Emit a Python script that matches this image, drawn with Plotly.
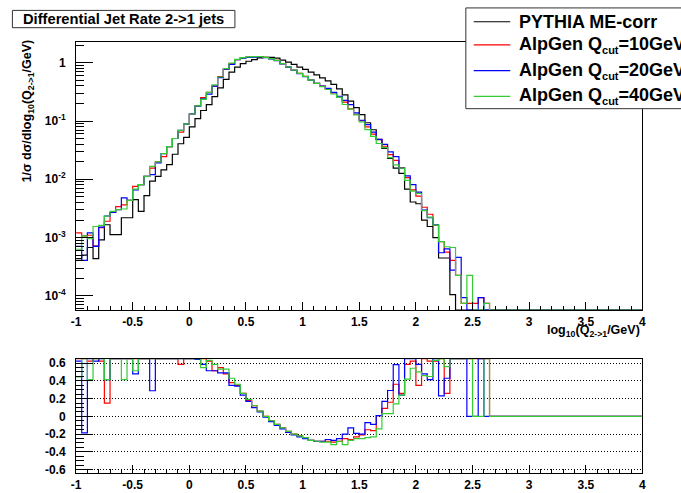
import numpy as np
import plotly.graph_objects as go

# Binning: 100 bins of width 0.05 in log10(Q_{2->1}/GeV)
X_MIN, X_MAX, N_BINS = -1.0, 4.0, 100
edges = np.linspace(X_MIN, X_MAX, N_BINS + 1)

# log10 of 1/sigma dsigma/dlog10(Q) per bin, starting at x = -1 (None = empty bin).
# Bins not listed are empty.
pythia_log10 = [
    -3.36, -3.30, -3.17, -3.36, -3.04, -2.78, -2.95, -2.95, -2.66, -2.66,
    -2.35, -2.55, -2.28, -2.03, -1.95, -1.84, -1.75, -1.57, -1.39, -1.28,
    -1.10, -0.96, -0.82, -0.72, -0.58, -0.43, -0.285, -0.16, -0.076, -0.014,
    0.025, 0.054, 0.082, 0.093, 0.093, 0.080, 0.045, 0.010, -0.030, -0.075,
    -0.115, -0.160, -0.210, -0.260, -0.310, -0.370, -0.450, -0.550, -0.660, -0.770,
    -0.890, -1.030, -1.150, -1.320, -1.470, -1.640, -1.810, -1.900, -2.170, -2.390,
    -2.420, -2.700, -2.810, -3.000, -3.350, -3.350, -3.980,
]
alpgen10_log10 = [
    -2.92, -2.97, -2.96, -3.14, -2.83, -2.72, -2.57, -2.47, -2.44, -2.36,
    -2.12, -2.09, -1.95, -1.81, -1.70, -1.61, -1.44, -1.30, -1.19, -1.05,
    -0.88, -0.74, -0.60, -0.51, -0.40, -0.24, -0.115, -0.020, 0.054, 0.086,
    0.097, 0.103, 0.107, 0.093, 0.071, 0.039, -0.015, -0.071, -0.127, -0.183,
    -0.234, -0.297, -0.353, -0.403, -0.453, -0.519, -0.593, -0.675, -0.791, -0.884,
    -0.992, -1.101, -1.226, -1.316, -1.433, -1.576, -1.676, -1.800, -1.970, -2.180,
    -2.290, -2.480, -2.600, -2.790, -3.070, -3.250, -3.390, -3.650, -4.130, -4.130,
    -4.130, -4.030, -4.130,
]
alpgen20_log10 = [
    -3.15, -3.39, -2.92, -3.15, -2.82, -2.63, -2.57, -2.52, -2.32, -2.36,
    -2.18, -2.09, -1.95, -1.92, -1.72, -1.56, -1.44, -1.30, -1.16, -1.05,
    -0.88, -0.745, -0.62, -0.54, -0.40, -0.257, -0.112, -0.030, 0.051, 0.079,
    0.093, 0.095, 0.103, 0.089, 0.066, 0.034, -0.021, -0.076, -0.132, -0.189,
    -0.240, -0.297, -0.353, -0.403, -0.441, -0.507, -0.575, -0.647, -0.720, -0.862,
    -0.987, -1.062, -1.191, -1.316, -1.402, -1.529, -1.611, -1.807, -1.940, -2.090,
    -2.220, -2.530, -2.660, -2.780, -3.260, -3.195, -3.560, -3.340, -4.030, None,
    None, -4.030, None,
]
alpgen40_log10 = [
    -3.20, -2.97, -3.02, -2.81, -2.79, -2.63, -2.55, -2.52, -2.51, -2.36,
    -2.17, -2.09, -1.95, -1.78, -1.70, -1.56, -1.44, -1.30, -1.16, -1.05,
    -0.88, -0.74, -0.63, -0.508, -0.38, -0.245, -0.100, -0.005, 0.058, 0.086,
    0.101, 0.103, 0.107, 0.093, 0.071, 0.039, -0.015, -0.071, -0.127, -0.183,
    -0.234, -0.297, -0.353, -0.409, -0.459, -0.537, -0.593, -0.717, -0.797, -0.895,
    -1.015, -1.149, -1.264, -1.386, -1.457, -1.627, -1.753, -1.807, -2.018, -2.202,
    -2.244, -2.536, -2.649, -2.788, -3.070, -3.157, -3.170, -3.650, -4.130, -3.650,
    None, None, -4.130,
]

SUB = "<sub><span style='font-size:11px'>cut</span></sub>"
series_names = ["PYTHIA ME-corr", f"AlpGen Q{SUB}=10GeV",
                f"AlpGen Q{SUB}=20GeV", f"AlpGen Q{SUB}=40GeV"]
series_colors = ["#000000", "#ff0000", "#0000ff", "#33cc33"]

x_tickvals = [-1, -0.5, 0, 0.5, 1, 1.5, 2, 2.5, 3, 3.5, 4]
x_ticktext = ["-1", "-0.5", "0", "0.5", "1", "1.5", "2", "2.5", "3", "3.5", "4"]
top_tickvals = [1e-4, 1e-3, 1e-2, 1e-1, 1]
top_ticktext = ["10<sup>-4</sup>", "10<sup>-3</sup>", "10<sup>-2</sup>", "10<sup>-1</sup>", "1"]
ratio_tickvals = [-0.6, -0.4, -0.2, 0, 0.2, 0.4, 0.6]
ratio_ticktext = ["-0.6", "-0.4", "-0.2", "0", "0.2", "0.4", "0.6"]

# Axis ranges
TOP_LOG_RANGE = [-4.246, 0.364]
RATIO_RANGE = [-0.64, 0.65]

W, H = 681, 493
FONT = "Liberation Sans, Arial, sans-serif"


def to_bins(log_vals):
    """Per-bin linear values, empty bins -> 0."""
    out = np.zeros(N_BINS)
    for i, v in enumerate(log_vals):
        if v is not None:
            out[i] = 10.0 ** v
    return out


def step_xy(vals):
    """Edges and values for an 'hv' step outline."""
    return edges, np.append(vals, vals[-1])


def px_x(p):
    return p / W


def px_y(p):
    return 1 - p / H


pythia = to_bins(pythia_log10)
alpgens = [to_bins(a) for a in (alpgen10_log10, alpgen20_log10, alpgen40_log10)]
floor = 10.0 ** TOP_LOG_RANGE[0]

fig = go.Figure()

# Upper panel: distributions (empty bins are drawn along the lower frame)
for vals, color in zip([pythia] + alpgens, series_colors):
    shown = np.where(vals > 0, vals, floor)
    xs, ys = step_xy(shown)
    fig.add_trace(go.Scatter(x=xs, y=ys, mode="lines", line_shape="hv",
                             line=dict(color=color, width=1.2),
                             xaxis="x", yaxis="y", hoverinfo="skip"))

# Lower panel: relative difference (AlpGen - PYTHIA) / PYTHIA
for vals, color in zip(alpgens, series_colors[1:]):
    ratio = np.zeros(N_BINS)
    has_ref = pythia > 0
    ratio[has_ref] = vals[has_ref] / pythia[has_ref] - 1.0
    ratio[(~has_ref) & (vals > 0)] = np.inf
    ratio = np.clip(ratio, RATIO_RANGE[0], RATIO_RANGE[1])
    xs, ys = step_xy(ratio)
    fig.add_trace(go.Scatter(x=xs, y=ys, mode="lines", line_shape="hv",
                             line=dict(color=color, width=1.2),
                             xaxis="x2", yaxis="y2", hoverinfo="skip"))

x_dom = [px_x(72), px_x(646)]
tickfont = dict(family=FONT, size=12, color="black", weight="bold")
common_x = dict(
    domain=x_dom, range=[X_MIN, X_MAX], tickmode="array",
    tickvals=x_tickvals, ticktext=x_ticktext, ticks="inside", ticklen=8,
    tickcolor="black", tickwidth=1,
    minor=dict(dtick=0.1, tick0=-1, ticks="inside", ticklen=4, tickcolor="black"),
    showline=True, mirror=True, linecolor="black", linewidth=1,
    showgrid=False, zeroline=False, tickfont=tickfont,
)

minor_log = [m * 10.0 ** e for e in range(-5, 1) for m in range(2, 10)]

fig.update_layout(
    width=W, height=H, margin=dict(l=0, r=0, t=0, b=0),
    paper_bgcolor="white", plot_bgcolor="white", showlegend=False,
    xaxis=dict(anchor="y", **common_x),
    xaxis2=dict(anchor="y2", **common_x),
    yaxis=dict(
        domain=[px_y(312), px_y(40)], type="log", range=TOP_LOG_RANGE,
        anchor="x", tickmode="array", tickvals=top_tickvals, ticktext=top_ticktext,
        ticks="inside", ticklen=17, tickcolor="black", ticklabelstandoff=7,
        minor=dict(tickmode="array", tickvals=minor_log, ticks="inside",
                   ticklen=8, tickcolor="black"),
        showline=True, mirror=True, linecolor="black", linewidth=1,
        showgrid=False, zeroline=False, tickfont=tickfont,
    ),
    yaxis2=dict(
        domain=[px_y(477), px_y(361)], range=RATIO_RANGE, anchor="x2",
        tickmode="array", tickvals=ratio_tickvals, ticktext=ratio_ticktext,
        ticks="inside", ticklen=17, tickcolor="black", ticklabelstandoff=7,
        minor=dict(dtick=0.05, tick0=0, ticks="inside", ticklen=8, tickcolor="black"),
        showline=True, mirror=True, linecolor="black", linewidth=1,
        showgrid=True, gridcolor="black", griddash="1px,2px", gridwidth=1,
        zeroline=False, tickfont=tickfont,
    ),
)

shapes = []
annotations = []

# Title box
shapes.append(dict(type="rect", xref="paper", yref="paper",
                   x0=px_x(7.5), x1=px_x(233), y0=px_y(26), y1=px_y(8.5),
                   line=dict(color="#333333", width=1), fillcolor="white"))
annotations.append(dict(xref="paper", yref="paper", x=px_x(120), y=px_y(17.5),
                        xanchor="center", yanchor="middle", showarrow=False,
                        text="Differential Jet Rate 2->1 jets",
                        font=dict(family=FONT, size=14.7, color="black", weight="bold")))

# Legend box
shapes.append(dict(type="rect", xref="paper", yref="paper",
                   x0=px_x(467), x1=px_x(720), y0=px_y(108), y1=px_y(6),
                   line=dict(color="#333333", width=1), fillcolor="white"))
legend_rows = [20, 43.5, 69.5, 95.5]
for name, color, yrow in zip(series_names, series_colors, legend_rows):
    shapes.append(dict(type="line", xref="paper", yref="paper",
                       x0=px_x(475), x1=px_x(512), y0=px_y(yrow), y1=px_y(yrow),
                       line=dict(color=color, width=1.2)))
    annotations.append(dict(xref="paper", yref="paper", x=px_x(519), y=px_y(yrow),
                            xanchor="left", yanchor="middle", showarrow=False,
                            text=name,
                            font=dict(family=FONT, size=18, color="black", weight="bold")))

# Axis titles
annotations.append(dict(xref="paper", yref="paper", x=px_x(646), y=px_y(333),
                        xanchor="right", yanchor="middle", showarrow=False,
                        text="log<sub>10</sub>(Q<sub>2->1</sub>/GeV)",
                        font=dict(family=FONT, size=12.5, color="black", weight="bold")))
annotations.append(dict(xref="paper", yref="paper", x=px_x(23), y=px_y(110),
                        xanchor="center", yanchor="middle", showarrow=False,
                        textangle=-90,
                        text="1/\u03c3 d\u03c3/dlog<sub>10</sub>(Q<sub>2->1</sub>/GeV)",
                        font=dict(family=FONT, size=12.5, color="black", weight="bold")))

fig.update_layout(shapes=shapes, annotations=annotations)
fig.write_html("out.html")
